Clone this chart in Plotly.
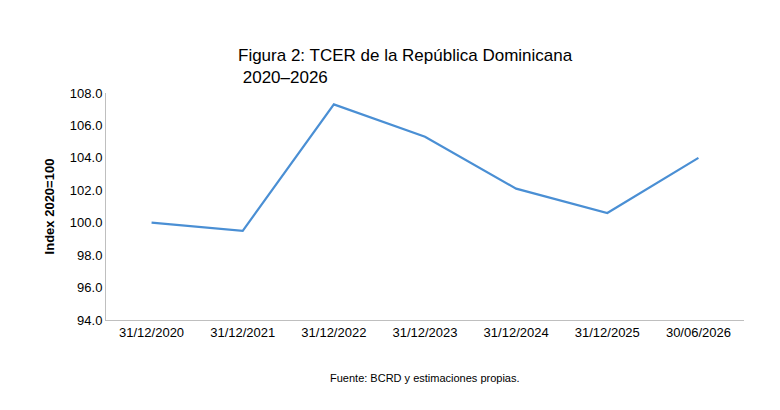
import plotly.graph_objects as go

categories = ["31/12/2020","31/12/2021","31/12/2022","31/12/2023","31/12/2024","31/12/2025","30/06/2026"]
values = [100.0, 99.5, 107.3, 105.3, 102.1, 100.6, 104.0]

fig = go.Figure(go.Scatter(x=categories, y=values, mode="lines",
                           line=dict(color="#4a8fd4", width=2.2)))
fig.update_layout(
    width=780, height=410, paper_bgcolor="white", plot_bgcolor="white",
    margin=dict(l=98, r=44, t=85, b=98),
    font=dict(family="Liberation Sans, Arial, sans-serif", color="black"),
    showlegend=False,
    xaxis=dict(type="category", range=[-0.5, 6.5], showline=True, linecolor="#bfbfbf",
               ticks="", tickfont=dict(size=13), showgrid=False),
    yaxis=dict(range=[94, 108], dtick=2, tickformat=".1f", showline=True,
               linecolor="#bfbfbf", showgrid=False, zeroline=False,
               tickfont=dict(size=13),
               title=dict(text="<b>Index 2020=100</b>", font=dict(size=13), standoff=12)),
    annotations=[
        dict(text="Figura 2: TCER de la República Dominicana<br> 2020–2026",
             xref="paper", yref="paper", x=228/780, y=(410-36)/410, xanchor="left",
             yanchor="top", xshift=-98 * 0, align="left", showarrow=False,
             font=dict(size=17)),
        dict(text="Fuente: BCRD y estimaciones propias.", xref="paper", yref="paper",
             x=0.5, y=-0.22, xanchor="center", yanchor="top", showarrow=False,
             font=dict(size=11))],
)
# position title annotation in paper-pixel terms
fig.layout.annotations[0].update(xref="paper", yref="paper",
                                 x=(228-98)/(780-98-44), y=1 + (85-36)/(410-85-98))
fig.write_html("out.html")
